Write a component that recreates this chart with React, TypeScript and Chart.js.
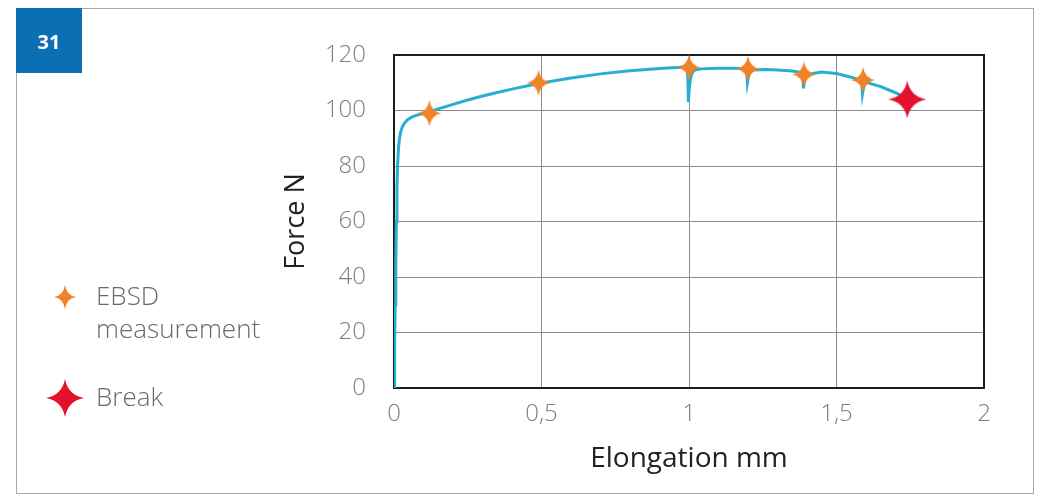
import React, { useEffect, useRef } from "react";
import { Chart, registerables } from "chart.js";

Chart.register(...registerables);

// ---- data ----
const elongation = [
  0, 0.002, 0.004, 0.006, 0.008, 0.01, 0.012, 0.015, 0.018, 0.022, 0.028, 0.035, 0.045, 0.06, 0.08,
  0.1, 0.12, 0.15, 0.2, 0.25, 0.3, 0.35, 0.4, 0.45, 0.49, 0.55, 0.6, 0.7, 0.8, 0.9, 0.96, 0.995,
  0.998, 1.001, 1.005, 1.01, 1.02, 1.04, 1.1, 1.15, 1.195, 1.198, 1.202, 1.208, 1.22, 1.26, 1.3,
  1.35, 1.385, 1.388, 1.392, 1.4, 1.42, 1.45, 1.5, 1.55, 1.585, 1.588, 1.592, 1.6, 1.65, 1.7, 1.74,
];
const force = [
  0, 15, 30, 45, 60, 72, 80, 86, 89.5, 92, 94, 95.4, 96.6, 97.6, 98.4,
  99, 99.6, 100.6, 102.2, 103.8, 105.2, 106.5, 107.7, 108.8, 109.7, 110.8, 111.7, 113.2, 114.3, 115.1, 115.5, 115.7,
  103, 108, 111.5, 113.5, 114.6, 115, 115.2, 115.2, 115.1, 110, 112.5, 114, 114.6, 114.8, 114.6,
  114.2, 113.6, 108, 111, 112.8, 113.3, 113.9, 113.3, 112, 110.8, 106, 108.5, 110.2, 108.6, 106.4, 104.3,
];
const ebsdElongation = [0.12, 0.49, 1.0, 1.2, 1.39, 1.59];
const ebsdForce = [99, 110, 115.5, 115, 113, 111];
const breakElongation = [1.74];
const breakForce = [104];
const xTickValues = [0, 0.5, 1, 1.5, 2];
const yTickValues = [0, 20, 40, 60, 80, 100, 120];
const figureNumber = "31";
const legendLabels = [["EBSD", "measurement"], ["Break"]];
const xTitle = "Elongation mm";
const yTitle = "Force N";

const FONT = "'Open Sans', 'DejaVu Sans', sans-serif";
const CURVE_COLOR = "#27afd2";
const ORANGE = "#f08228";
const RED = "#e3112b";

function makeStar(w: number, h: number, color: string, inner: number) {
  const c = document.createElement("canvas");
  c.width = w;
  c.height = h;
  const ctx = c.getContext("2d")!;
  const cx = w / 2;
  const cy = h / 2;
  const rx = w / 2;
  const ry = h / 2;
  ctx.fillStyle = color;
  ctx.beginPath();
  ctx.moveTo(cx, cy - ry);
  ctx.quadraticCurveTo(cx + inner, cy - inner, cx + rx, cy);
  ctx.quadraticCurveTo(cx + inner, cy + inner, cx, cy + ry);
  ctx.quadraticCurveTo(cx - inner, cy + inner, cx - rx, cy);
  ctx.quadraticCurveTo(cx - inner, cy - inner, cx, cy - ry);
  ctx.closePath();
  ctx.fill();
  return c;
}

export default function App() {
  const ref = useRef<HTMLCanvasElement | null>(null);

  useEffect(() => {
    if (!ref.current) return;
    const orangeStar = makeStar(24, 26, ORANGE, 1.8);
    const redStar = makeStar(38, 38, RED, 3);
    const orangeLegend = makeStar(22, 24, ORANGE, 1.6);
    const redLegend = makeStar(38, 38, RED, 3);

    const decor = {
      id: "decor",
      beforeDraw(chart: any) {
        const ctx = chart.ctx;
        ctx.save();
        ctx.fillStyle = "#ffffff";
        ctx.fillRect(0, 0, chart.width, chart.height);
        ctx.strokeStyle = "#a9a9a9";
        ctx.lineWidth = 1;
        ctx.strokeRect(16.5, 8.5, 1017, 485);
        ctx.fillStyle = "#0b6fb3";
        ctx.fillRect(16, 8, 66, 65);
        ctx.fillStyle = "#ffffff";
        ctx.font = `bold 20px ${FONT}`;
        ctx.textAlign = "center";
        ctx.textBaseline = "middle";
        ctx.fillText(figureNumber, 49, 43);
        ctx.restore();
      },
      beforeDatasetsDraw(chart: any) {
        const { ctx, chartArea } = chart;
        ctx.save();
        ctx.strokeStyle = "#1e1e1e";
        ctx.lineWidth = 2;
        ctx.strokeRect(chartArea.left, chartArea.top, chartArea.right - chartArea.left, chartArea.bottom - chartArea.top);
        ctx.restore();
      },
      afterDraw(chart: any) {
        const ctx = chart.ctx;
        ctx.save();
        ctx.drawImage(orangeLegend, 65 - 11, 297 - 12);
        ctx.drawImage(redLegend, 65 - 19, 398 - 19);
        ctx.fillStyle = "#6a6a6a";
        ctx.font = `300 26px ${FONT}`;
        ctx.textAlign = "left";
        ctx.textBaseline = "middle";
        ctx.fillText(legendLabels[0][0], 96, 298);
        ctx.fillText(legendLabels[0][1], 96, 331);
        ctx.fillText(legendLabels[1][0], 96, 399);
        ctx.restore();
      },
    };

    const chart = new Chart(ref.current, {
      type: "scatter",
      data: {
        datasets: [
          {
            label: "EBSD measurement",
            data: ebsdElongation.map((x, i) => ({ x, y: ebsdForce[i] })),
            pointStyle: orangeStar as any,
            pointRadius: 12,
            showLine: false,
          },
          {
            label: "Break",
            data: breakElongation.map((x, i) => ({ x, y: breakForce[i] })),
            pointStyle: redStar as any,
            pointRadius: 19,
            showLine: false,
          },
          {
            label: "Curve",
            data: elongation.map((x, i) => ({ x, y: force[i] })),
            showLine: true,
            borderColor: CURVE_COLOR,
            borderWidth: 3,
            pointRadius: 0,
            tension: 0,
            fill: false,
          },
        ],
      },
      options: {
        responsive: false,
        animation: false,
        layout: { padding: { left: 280, top: 55, right: 60, bottom: 0 } },
        plugins: { legend: { display: false }, tooltip: { enabled: false } },
        scales: {
          x: {
            type: "linear",
            min: 0,
            max: 2,
            afterBuildTicks: (scale: any) => {
              scale.ticks = xTickValues.map((v) => ({ value: v }));
            },
            afterFit: (scale: any) => {
              scale.height = 107;
            },
            grid: { color: "#8c8c8c", lineWidth: 1, drawTicks: false },
            border: { display: false },
            ticks: {
              padding: 12,
              color: "#7e7e7e",
              font: { family: FONT, size: 24, weight: "300" as any },
              callback: (v: any) => String(v).replace(".", ","),
            },
            title: {
              display: true,
              text: xTitle,
              color: "#222222",
              font: { family: FONT, size: 28, weight: "500" as any },
              padding: { top: 0, bottom: 19 },
            },
          },
          y: {
            type: "linear",
            min: 0,
            max: 120,
            afterBuildTicks: (scale: any) => {
              scale.ticks = yTickValues.map((v) => ({ value: v }));
            },
            afterFit: (scale: any) => {
              scale.width = 114;
            },
            grid: { color: "#8c8c8c", lineWidth: 1, drawTicks: false },
            border: { display: false },
            ticks: {
              padding: 28,
              color: "#7e7e7e",
              font: { family: FONT, size: 24, weight: "300" as any },
            },
            title: {
              display: true,
              text: yTitle,
              color: "#222222",
              font: { family: FONT, size: 27, weight: "500" as any },
              padding: { top: 0, bottom: 0 },
            },
          },
        },
      },
      plugins: [decor],
    });
    return () => chart.destroy();
  }, []);

  return (
    <div style={{ position: "absolute", left: 0, top: 0, width: 1044, height: 495 }}>
      <canvas ref={ref} width={1044} height={495} />
    </div>
  );
}
